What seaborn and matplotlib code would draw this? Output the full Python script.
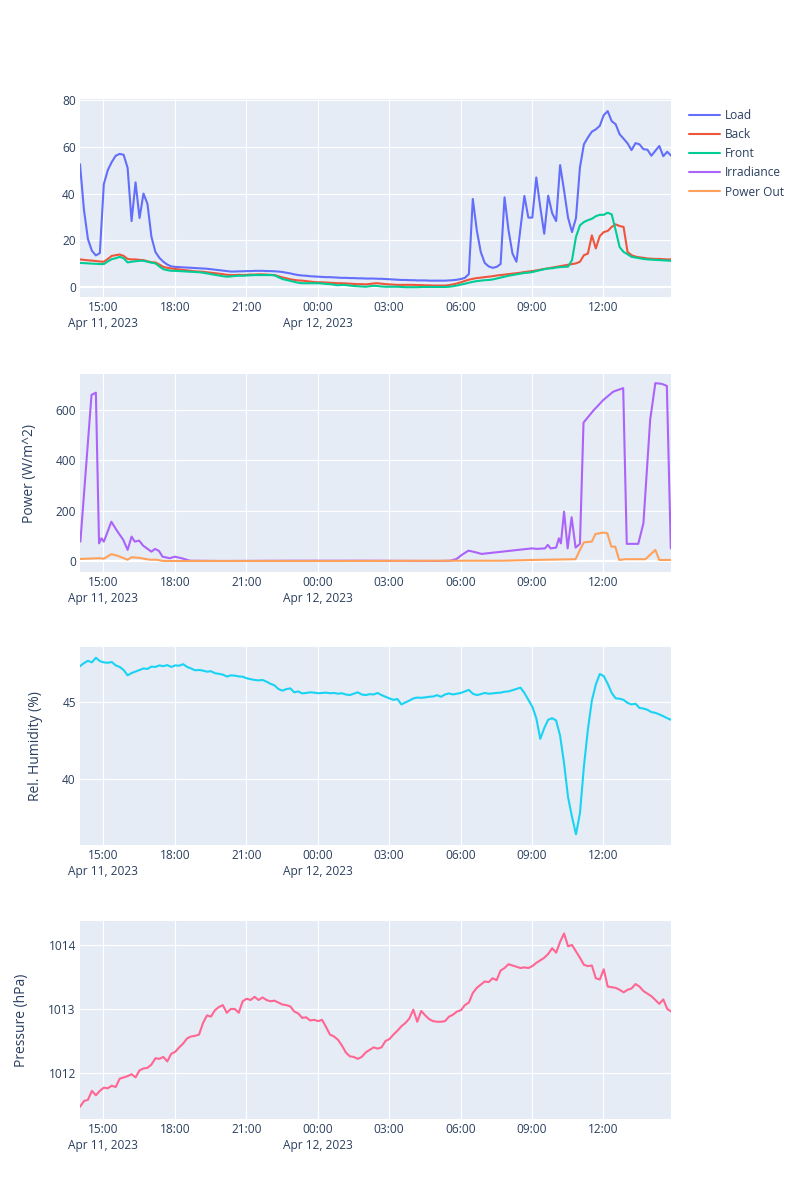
import matplotlib
matplotlib.use("Agg")
import matplotlib.pyplot as plt
import matplotlib.dates as mdates
import pandas as pd
import seaborn as sns

# 10-minute samples from Apr 11 14:01 to Apr 12 14:51
grid_start = "2023-04-11 14:01"
n_grid = 150

load = [52.6, 33, 20.5, 15.5, 13.5, 14.5, 44, 50, 53.5, 56.2,
        57, 56.6, 51, 28.2, 44.8, 29.5, 40, 35.6, 21.5, 15,
        12.5, 10.8, 9.6, 8.8, 8.6, 8.5, 8.4, 8.3, 8.2, 8.1,
        8.0, 7.9, 7.8, 7.6, 7.4, 7.2, 7.0, 6.8, 6.6, 6.6,
        6.7, 6.7, 6.8, 6.8, 6.9, 6.9, 6.9, 6.8, 6.8, 6.7,
        6.6, 6.4, 6.1, 5.8, 5.4, 5.1, 4.9, 4.8, 4.6, 4.5,
        4.4, 4.3, 4.2, 4.2, 4.1, 4.0, 3.9, 3.9, 3.8, 3.8,
        3.7, 3.7, 3.6, 3.6, 3.6, 3.5, 3.5, 3.4, 3.3, 3.2,
        3.1, 3.0, 3.0, 2.9, 2.9, 2.8, 2.8, 2.8, 2.7, 2.7,
        2.7, 2.7, 2.7, 2.8, 2.9, 3.1, 3.4, 3.9, 5.5, 37.7,
        24.3, 15, 10.3, 8.8, 8.2, 8.6, 9.8, 38.4, 24.3, 14.3,
        10.8, 25, 39, 29.7, 29.7, 46.9, 34.2, 22.8, 39.1, 31.6,
        28.2, 52.2, 41.3, 29.7, 23.5, 29.5, 51.2, 61.1, 64, 66.5,
        67.5, 69, 73.6, 75.3, 71, 69.7, 65.4, 63.5, 61.5, 58.6,
        61.6, 61.1, 59, 58.8, 56.2, 58.3, 60.4, 56, 57.9, 56.2]

back = [11.8, 11.6, 11.4, 11.3, 11.1, 10.9, 10.8, 12.0, 13.3, 13.6,
        13.9, 13.3, 12.0, 11.8, 11.8, 11.6, 11.5, 11.0, 10.6, 10.5,
        9.6, 8.6, 8.2, 7.9, 7.7, 7.5, 7.3, 7.1, 6.9, 6.7,
        6.6, 6.5, 6.3, 6.1, 5.9, 5.7, 5.5, 5.2, 5.1, 5.1,
        5.2, 5.1, 5.2, 5.3, 5.3, 5.4, 5.4, 5.3, 5.2, 5.1,
        4.6, 4.1, 3.7, 3.3, 3.0, 2.8, 2.7, 2.5, 2.3, 2.1,
        2.0, 2.0, 1.9, 1.8, 1.7, 1.6, 1.6, 1.5, 1.4, 1.3,
        1.2, 1.2, 1.1, 1.3, 1.5, 1.6, 1.4, 1.2, 1.1, 1.0,
        0.9, 0.9, 0.9, 0.9, 0.9, 0.8, 0.8, 0.7, 0.7, 0.6,
        0.6, 0.6, 0.6, 0.8, 1.1, 1.5, 2.0, 2.6, 3.1, 3.5,
        3.8, 4.0, 4.2, 4.4, 4.6, 4.9, 5.1, 5.3, 5.5, 5.7,
        5.9, 6.1, 6.4, 6.6, 6.8, 7.1, 7.4, 7.7, 8.0, 8.3,
        8.6, 8.9, 9.2, 9.5, 9.8, 10.1, 10.8, 13.6, 14.3, 22.1,
        16.5, 21.8, 23.5, 24.0, 25.7, 26.8, 26.1, 25.7, 15.0, 13.6,
        13.0, 12.7, 12.5, 12.2, 12.1, 12.0, 12.0, 11.9, 11.8, 11.8]

front = [10.3, 10.2, 10.1, 10.0, 9.9, 9.8, 9.8, 10.9, 11.9, 12.3,
         12.9, 12.3, 10.5, 10.8, 11.0, 11.2, 11.2, 10.8, 10.4, 10.1,
         8.8, 7.6, 7.2, 6.9, 6.9, 6.8, 6.7, 6.6, 6.5, 6.4,
         6.3, 6.1, 5.8, 5.5, 5.2, 4.9, 4.6, 4.4, 4.5, 4.7,
         4.8, 4.8, 4.9, 5.0, 5.1, 5.1, 5.1, 5.1, 5.1, 5.0,
         4.2, 3.4, 3.0, 2.6, 2.2, 1.8, 1.6, 1.6, 1.6, 1.6,
         1.6, 1.5, 1.3, 1.2, 1.0, 0.7, 0.9, 0.8, 0.6, 0.4,
         0.3, 0.2, 0.1, 0.3, 0.5, 0.4, 0.2, 0.1, 0.1, 0.1,
         0.1, 0.0, -0.1, -0.1, -0.1, -0.1, 0.0, 0.0, 0.0, 0.0,
         0.0, 0.0, 0.0, 0.1, 0.3, 0.6, 1.0, 1.4, 1.8, 2.2,
         2.5, 2.7, 2.9, 3.0, 3.2, 3.6, 4.0, 4.4, 4.8, 5.1,
         5.4, 5.7, 6.0, 6.1, 6.4, 6.8, 7.2, 7.6, 7.9, 8.0,
         8.3, 8.5, 8.6, 8.7, 11.5, 21.4, 26.4, 27.8, 28.6, 29.2,
         30.3, 30.9, 30.9, 31.8, 31.1, 24.3, 17.1, 15.0, 14.0, 12.9,
         12.6, 12.3, 12.0, 11.8, 11.7, 11.6, 11.5, 11.4, 11.3, 11.2]

humidity = [47.35, 47.55, 47.7, 47.6, 47.9, 47.68, 47.6, 47.57, 47.62, 47.4,
            47.3, 47.1, 46.75, 46.9, 47.0, 47.1, 47.2, 47.17, 47.32, 47.3,
            47.4, 47.35, 47.42, 47.3, 47.4, 47.38, 47.48, 47.3, 47.2, 47.08,
            47.1, 47.06, 46.99, 47.02, 46.89, 46.85, 46.8, 46.67, 46.75, 46.73,
            46.68, 46.66, 46.56, 46.5, 46.45, 46.42, 46.45, 46.34, 46.2, 46.1,
            45.86, 45.75, 45.85, 45.9, 45.64, 45.7, 45.57, 45.6, 45.64, 45.62,
            45.58, 45.6, 45.62, 45.58, 45.6, 45.55, 45.58, 45.5, 45.46, 45.55,
            45.64, 45.5, 45.46, 45.52, 45.5, 45.6, 45.46, 45.35, 45.24, 45.15,
            45.2, 44.85, 44.98, 45.1, 45.24, 45.3, 45.28, 45.31, 45.35, 45.37,
            45.45, 45.35, 45.5, 45.57, 45.5, 45.55, 45.6, 45.7, 45.8, 45.55,
            45.46, 45.52, 45.6, 45.55, 45.57, 45.6, 45.62, 45.68, 45.7, 45.78,
            45.86, 45.95, 45.6, 45.15, 44.7, 43.95, 42.6, 43.3, 43.85, 43.95,
            43.8, 42.8, 41.0, 38.8, 37.5, 36.36, 37.74, 40.8, 43.2, 45.1,
            46.15, 46.84, 46.7, 46.2, 45.6, 45.25, 45.22, 45.15, 44.95, 44.85,
            44.9, 44.62, 44.58, 44.5, 44.35, 44.3, 44.2, 44.08, 43.95, 43.84]

pressure = [1011.47, 1011.56, 1011.58, 1011.72, 1011.65, 1011.72, 1011.77, 1011.76, 1011.8, 1011.78,
            1011.91, 1011.93, 1011.95, 1011.98, 1011.93, 1012.04, 1012.07, 1012.08, 1012.13, 1012.23,
            1012.22, 1012.25, 1012.18, 1012.3, 1012.33, 1012.4, 1012.46, 1012.54, 1012.57, 1012.58,
            1012.6, 1012.78, 1012.9, 1012.88, 1012.98, 1013.03, 1013.06, 1012.94, 1013.0, 1013.0,
            1012.94, 1013.12, 1013.16, 1013.14, 1013.19, 1013.14, 1013.18, 1013.14, 1013.12, 1013.13,
            1013.1, 1013.07, 1013.06, 1013.04, 1012.96, 1012.93, 1012.86, 1012.87, 1012.82, 1012.83,
            1012.81, 1012.83, 1012.72, 1012.6, 1012.57, 1012.52, 1012.43, 1012.32, 1012.26, 1012.25,
            1012.22, 1012.25, 1012.32, 1012.36, 1012.4, 1012.38, 1012.4, 1012.5, 1012.53, 1012.6,
            1012.66, 1012.73, 1012.78, 1012.85, 1012.99, 1012.8, 1012.97, 1012.9, 1012.84, 1012.81,
            1012.8, 1012.8, 1012.81, 1012.88, 1012.91, 1012.96, 1012.98, 1013.06, 1013.1, 1013.25,
            1013.33, 1013.38, 1013.43, 1013.42, 1013.48, 1013.45, 1013.6, 1013.64, 1013.7, 1013.68,
            1013.66, 1013.64, 1013.65, 1013.64, 1013.67, 1013.72, 1013.76, 1013.8, 1013.86, 1013.95,
            1013.88, 1014.05, 1014.18, 1013.98, 1014.0, 1013.9, 1013.8, 1013.69, 1013.67, 1013.68,
            1013.48, 1013.46, 1013.62, 1013.35, 1013.34, 1013.33, 1013.3, 1013.26, 1013.3, 1013.32,
            1013.39, 1013.35, 1013.28, 1013.24, 1013.2, 1013.14, 1013.08, 1013.15, 1013.0, 1012.96]

# irregular sampling for the solar sensors
irr_times = ["04-11 14:02", "04-11 14:30", "04-11 14:41", "04-11 14:49", "04-11 14:55",
             "04-11 15:01", "04-11 15:06", "04-11 15:20", "04-11 15:33", "04-11 15:50",
             "04-11 16:01", "04-11 16:11", "04-11 16:19", "04-11 16:30", "04-11 16:40",
             "04-11 17:01", "04-11 17:10", "04-11 17:20", "04-11 17:29", "04-11 17:47",
             "04-11 18:00", "04-11 18:17", "04-11 18:38", "04-11 20:00", "04-11 23:00",
             "04-12 02:00", "04-12 05:00", "04-12 05:34", "04-12 05:50", "04-12 06:03",
             "04-12 06:20", "04-12 06:37", "04-12 06:53", "04-12 09:00", "04-12 09:12",
             "04-12 09:33", "04-12 09:40", "04-12 09:47", "04-12 10:01", "04-12 10:08",
             "04-12 10:13", "04-12 10:21", "04-12 10:30", "04-12 10:40", "04-12 10:50",
             "04-12 11:01", "04-12 11:10", "04-12 11:35", "04-12 12:00", "04-12 12:25",
             "04-12 12:50", "04-12 12:59", "04-12 13:28", "04-12 13:41", "04-12 13:58",
             "04-12 14:11", "04-12 14:27", "04-12 14:40", "04-12 14:50"]
irradiance = [77, 660, 669, 70, 90,
              77, 97, 156, 123, 84,
              44, 97, 77, 81, 61,
              37, 48, 40, 17, 11,
              17, 11, 1, 0, 1,
              1, 0, 1, 8, 24,
              41, 35, 28, 50, 48,
              50, 64, 50, 53, 90,
              70, 196, 50, 174, 53,
              68, 550, 598, 640, 673,
              687, 68, 68, 150, 561,
              707, 704, 696, 50]

pout_times = ["04-11 14:02", "04-11 14:51", "04-11 15:01", "04-11 15:20", "04-11 15:37",
              "04-11 16:01", "04-11 16:11", "04-11 16:32", "04-11 16:57", "04-11 17:14",
              "04-11 17:31", "04-11 21:00", "04-12 01:00", "04-12 06:07", "04-12 07:48",
              "04-12 09:00", "04-12 10:50", "04-12 11:01", "04-12 11:11", "04-12 11:31",
              "04-12 11:40", "04-12 12:00", "04-12 12:10", "04-12 12:20", "04-12 12:30",
              "04-12 12:40", "04-12 12:55", "04-12 13:46", "04-12 14:11", "04-12 14:21",
              "04-12 14:50"]
power_out = [8, 11, 9, 27, 20,
             5, 15, 12, 5, 5,
             0, 0, 0, 1, 1,
             4, 7, 44, 74, 77,
             107, 113, 110, 57, 57,
             4, 7, 7, 44, 4,
             4]

colors = {"Load": "#636EFA", "Back": "#EF553B", "Front": "#00CC96",
          "Irradiance": "#AB63FA", "Power Out": "#FFA15A",
          "humidity": "#19D3F3", "pressure": "#FF6692"}
text_color = "#2a3f5f"

sns.set_theme(style="darkgrid", rc={"axes.facecolor": "#E5ECF6", "grid.color": "white",
                                    "grid.linewidth": 0.8, "axes.edgecolor": "#E5ECF6"})
plt.rcParams["font.family"] = ["Open Sans", "DejaVu Sans"]

grid_times = pd.date_range(grid_start, periods=n_grid, freq="10min")
df = pd.DataFrame({"time": grid_times, "Load": load, "Back": back, "Front": front,
                   "humidity": humidity, "pressure": pressure})
irr = pd.DataFrame({"time": pd.to_datetime(["2023-" + s for s in irr_times]), "v": irradiance})
pout = pd.DataFrame({"time": pd.to_datetime(["2023-" + s for s in pout_times]), "v": power_out})

fig = plt.figure(figsize=(8, 12), dpi=100)
left, width, height = 0.1, 0.739, 0.165
bottoms = [0.7525, 0.5233, 0.2958, 0.0675]
axes = [fig.add_axes([left, b, width, height]) for b in bottoms]

lw = 1.5
for name in ["Load", "Back", "Front"]:
    sns.lineplot(data=df, x="time", y=name, ax=axes[0], color=colors[name], linewidth=lw, label=name)
sns.lineplot(data=irr, x="time", y="v", ax=axes[1], color=colors["Irradiance"], linewidth=lw, label="Irradiance")
sns.lineplot(data=pout, x="time", y="v", ax=axes[1], color=colors["Power Out"], linewidth=lw, label="Power Out")
sns.lineplot(data=df, x="time", y="humidity", ax=axes[2], color=colors["humidity"], linewidth=lw)
sns.lineplot(data=df, x="time", y="pressure", ax=axes[3], color=colors["pressure"], linewidth=lw)

handles, labels = [], []
for ax in axes[:2]:
    h, l = ax.get_legend_handles_labels()
    handles += h
    labels += l
    ax.get_legend().remove()

ylims = [(-4.3, 80.5), (-44, 743), (35.66, 48.6), (1011.28, 1014.375)]
yticks = [[0, 20, 40, 60, 80], [0, 200, 400, 600], [40, 45], [1012, 1013, 1014]]
ylabels = ["", "Power (W/m^2)", "Rel. Humidity (%)", "Pressure (hPa)"]
label_x = [-0.07, -0.0728, -0.0626, -0.0863]


def fmt_tick(x, pos):
    d = mdates.num2date(x)
    label = d.strftime("%H:%M")
    if (d.hour == 15 and d.day == 11) or d.hour == 0:
        label += "\n" + d.strftime("%b %d, %Y")
    return label


for i, ax in enumerate(axes):
    ax.set_xlim(grid_times[0], grid_times[-1])
    ax.set_ylim(*ylims[i])
    ax.set_yticks(yticks[i])
    ax.xaxis.set_major_locator(mdates.HourLocator(byhour=range(0, 24, 3)))
    ax.xaxis.set_major_formatter(plt.FuncFormatter(fmt_tick))
    ax.tick_params(axis="both", length=0, labelsize=8.6, colors=text_color, pad=3)
    for lab in ax.get_xticklabels():
        lab.set_linespacing(1.25)
    for s in ax.spines.values():
        s.set_visible(False)
    ax.grid(True, color="white", linewidth=0.8)
    ax.set_xlabel("")
    ax.set_ylabel(ylabels[i], fontsize=10, color=text_color)
    ax.yaxis.set_label_coords(label_x[i], 0.5)
    if i < 2:
        ax.axhline(0, color="white", linewidth=1.6, zorder=1)

fig.legend(handles, labels, loc="upper left", bbox_to_anchor=(0.855, 0.9133), frameon=False,
           fontsize=8.6, labelcolor=text_color, handlelength=2.6, handletextpad=0.45,
           labelspacing=0.52, borderaxespad=0)

fig.savefig("out.png", dpi=100)
